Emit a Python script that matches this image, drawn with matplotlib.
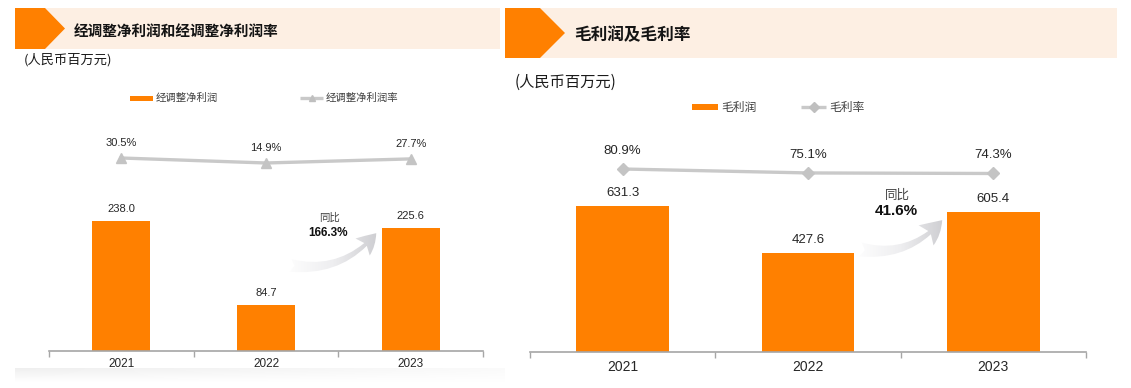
import numpy as np
import matplotlib
matplotlib.use("Agg")
import matplotlib.pyplot as plt
from matplotlib.patches import Polygon, Rectangle, FancyArrowPatch
from matplotlib.colors import LinearSegmentedColormap

plt.rcParams['font.family'] = ['Liberation Sans', 'Noto Sans CJK SC', 'DejaVu Sans']

# ---- data ----
years = ["2021", "2022", "2023"]
adj_profit = [238.0, 84.7, 225.6]        # 经调整净利润
adj_margin = [30.5, 14.9, 27.7]          # 经调整净利润率 (%)
gross_profit = [631.3, 427.6, 605.4]     # 毛利润
gross_margin = [80.9, 75.1, 74.3]        # 毛利率 (%)
adj_yoy = "166.3%"
gross_yoy = "41.6%"

ORANGE = "#FF8000"
PEACH = "#FDEFE3"
LINE_GRAY = "#C9C9C9"
TEXT = "#262626"

W, H = 1131, 388
fig = plt.figure(figsize=(W / 100, H / 100), dpi=100)

# overlay in pixel coordinates for headers / decorations
ov = fig.add_axes([0, 0, 1, 1], zorder=0)
ov.set_xlim(0, W)
ov.set_ylim(H, 0)
ov.axis("off")


def px_axes(x0, x1, ytop, ybot):
    return fig.add_axes([x0 / W, 1 - ybot / H, (x1 - x0) / W, (ybot - ytop) / H], zorder=2)


def header(x0, x1, y0, y1, flat, tip, title, fs):
    ov.add_patch(Rectangle((x0, y0), x1 - x0, y1 - y0, color=PEACH, lw=0))
    ym = (y0 + y1) / 2
    ov.add_patch(Polygon([(x0, y0), (flat, y0), (tip, ym), (flat, y1), (x0, y1)],
                         closed=True, color=ORANGE, lw=0))
    ov.text(tip + 9, ym + 2, title, fontsize=fs, fontweight="bold", color="#141414",
            ha="left", va="center", family=["Noto Sans CJK SC"])


def legend(x_bar, y, bar_w, bar_h, bar_label, x_line, line_w, marker, msize, line_label, fs):
    ov.add_patch(Rectangle((x_bar, y - bar_h / 2), bar_w, bar_h, color=ORANGE, lw=0))
    ov.text(x_bar + bar_w + 3, y, bar_label, fontsize=fs, color="#404040",
            ha="left", va="center", family=["Noto Sans CJK SC"])
    ov.plot([x_line, x_line + line_w], [y, y], color=LINE_GRAY, lw=2.4, solid_capstyle="butt")
    ov.plot([x_line + line_w / 2], [y], marker=marker, ms=msize, color="#BFBFBF", mec="#BFBFBF")
    ov.text(x_line + line_w + 3, y, line_label, fontsize=fs, color="#404040",
            ha="left", va="center", family=["Noto Sans CJK SC"])


def yoy_arrow(p0, p1, rad, head_w, head_l, tail_w):
    arrow = FancyArrowPatch(p0, p1, connectionstyle=f"arc3,rad={rad}",
                            arrowstyle=f"fancy,head_length={head_l},head_width={head_w},tail_width={tail_w}",
                            mutation_scale=1, facecolor="none", edgecolor="none")
    ov.add_patch(arrow)
    grad = np.linspace(0, 1, 256).reshape(1, -1)
    cmap = LinearSegmentedColormap.from_list("g", ["#FFFFFF", "#EEEEF0", "#CACACE"])
    im = ov.imshow(grad, cmap=cmap, aspect="auto",
                   extent=[p0[0] - 5, p1[0] + 5, p0[1] + 15, p1[1] - 15], zorder=1)
    im.set_clip_path(arrow)


def panel(x0, x1, ytop, ybase, values, rates, bar_px, rate_anchor_px, rate_px,
          width, marker, msize, fs_val, fs_year, val_off, rate_off, year_pad):
    h = ybase - ytop
    ax = px_axes(x0, x1, ytop, ybase)
    x = np.arange(len(years))
    ax.bar(x, values, width=width, color=ORANGE, zorder=2)
    ax.set_xlim(-0.5, len(years) - 0.5)
    ax.set_ylim(0, h / bar_px)
    for xi, v in zip(x, values):
        ax.annotate(f"{v:.1f}", (xi, v), xytext=(0, val_off), textcoords="offset points",
                    ha="center", va="center", fontsize=fs_val, color=TEXT)
    ax.set_xticks(x)
    ax.set_xticklabels(years, fontsize=fs_year, color=TEXT)
    ax.set_xticks(np.arange(-0.5, len(years)), minor=True)
    ax.tick_params(axis="x", which="major", length=0, pad=year_pad)
    ax.tick_params(axis="x", which="minor", length=4, color="#A6A6A6", width=1)
    ax.set_yticks([])
    for s in ["top", "right", "left"]:
        ax.spines[s].set_visible(False)
    ax.spines["bottom"].set_color("#A6A6A6")
    ax.spines["bottom"].set_linewidth(1.2)
    ax.patch.set_alpha(0)

    # margin line on a twin scale
    ax2 = ax.twinx()
    span = h / rate_px
    f0 = (ybase - rate_anchor_px) / h
    lo = rates[0] - f0 * span
    ax2.set_ylim(lo, lo + span)
    ax2.plot(x, rates, color=LINE_GRAY, lw=2.4, marker=marker, ms=msize,
             mfc="#C4C4C4", mec="#C4C4C4", zorder=3)
    for xi, r in zip(x, rates):
        ax2.annotate(f"{r:.1f}%", (xi, r), xytext=(0, rate_off), textcoords="offset points",
                     ha="center", va="center", fontsize=fs_val, color=TEXT)
    ax2.axis("off")
    return ax


# ---- left panel ----
header(15, 500, 8, 49, 45, 65, "经调整净利润和经调整净利润率", 10.5)
ov.text(24, 60, "(人民币百万元)", fontsize=9.5, color="#1a1a1a", ha="left", va="center",
        family=["Noto Sans CJK SC"])
legend(130, 98, 23, 5, "经调整净利润", 300, 23, "^", 5, "经调整净利润率", 7.5)
panel(49, 483, 120, 351, adj_profit, adj_margin, 0.546, 158, 0.32,
      0.4, "^", 7, 8, 8.5, 8.6, 11, 5)
yoy_arrow((288, 265), (378, 231), 0.3, 16, 14, 9)
ov.text(330, 218, "同比", fontsize=7.5, color="#404040", ha="center", va="center",
        family=["Noto Sans CJK SC"])
ov.text(328, 233, adj_yoy, fontsize=8.5, fontweight="bold", color="#111111",
        ha="center", va="center")

# faint shadow below left panel
shadow = np.linspace(1, 0, 64).reshape(-1, 1) * np.linspace(1, 0.3, 256).reshape(1, -1)
ov.imshow(shadow, cmap=LinearSegmentedColormap.from_list("s", ["#FFFFFF", "#EFEFEF"]),
          aspect="auto", extent=[15, 505, 382, 368], zorder=0)

# ---- right panel ----
header(505, 1117, 8, 58, 540, 565, "毛利润及毛利率", 12)
ov.text(515, 82, "(人民币百万元)", fontsize=11, color="#1a1a1a", ha="left", va="center",
        family=["Noto Sans CJK SC"])
legend(692, 107, 26, 6, "毛利润", 801, 25, "D", 5, "毛利率", 8.5)
panel(530, 1086, 120, 352, gross_profit, gross_margin, 0.2313, 169, 0.68,
      0.5, "D", 6, 9.5, 10, 9.4, 13, 6)
yoy_arrow((858, 249), (944, 218), 0.3, 18, 16, 10)
ov.text(897, 195, "同比", fontsize=9, color="#404040", ha="center", va="center",
        family=["Noto Sans CJK SC"])
ov.text(896, 211, gross_yoy, fontsize=11, fontweight="bold", color="#111111",
        ha="center", va="center")

ov.set_xlim(0, W)
ov.set_ylim(H, 0)

fig.savefig("out.png", dpi=100, facecolor="white")
